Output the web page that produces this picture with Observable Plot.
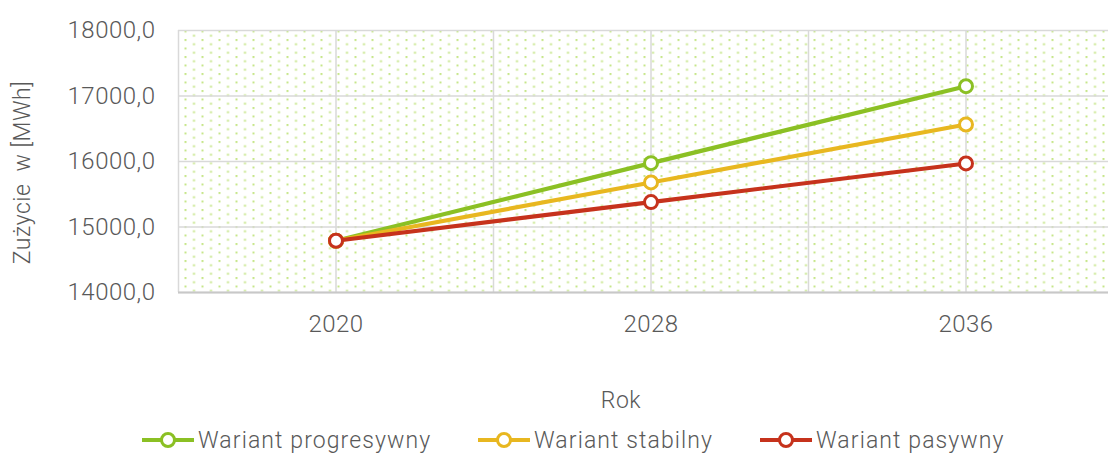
<!DOCTYPE html>
<html>
<head>
<meta charset="utf-8">
<script src="https://cdn.jsdelivr.net/npm/d3@7"></script>
<script src="https://cdn.jsdelivr.net/npm/@observablehq/plot@0.6"></script>
<style>
  html, body { margin: 0; padding: 0; background: #fff; overflow: hidden; }
  #chart svg { display: block; }
  #legend { position: relative; height: 33px; font-family: Roboto, "Noto Sans", sans-serif; font-weight: 300; font-size: 23px; letter-spacing: 1.1px; color: #595959; }
  #legend .item { position: absolute; top: 7px; height: 26px; display: flex; align-items: center; }
  #legend .item span { margin-left: 4px; white-space: nowrap; }
</style>
</head>
<body>
<div id="chart"></div>
<div id="legend"></div>
<script>
// ---- data ----
const years = [2020, 2028, 2036];
const seriesNames = ["Wariant progresywny", "Wariant stabilny", "Wariant pasywny"];
const progresywny = [14790, 15975, 17150];
const stabilny = [14790, 15680, 16565];
const pasywny = [14790, 15380, 15970];
const seriesColors = ["#8bc024", "#e8b720", "#c6321c"];
const yTicks = [14000, 15000, 16000, 17000, 18000];
const xTickLabels = [2020, 2028, 2036];
const xGrid = [2016, 2020, 2024, 2028, 2032, 2036];
const xDomain = [2016, 2040];
const yTitle = "Zużycie\u00a0 w [MWh]";
const xTitle = "Rok";

const seriesValues = [progresywny, stabilny, pasywny];
const rows = seriesNames.flatMap((name, i) =>
  years.map((year, j) => ({ series: name, year, value: seriesValues[i][j] }))
);

const textColor = "#595959";
const fontFamily = "Roboto, 'Noto Sans', sans-serif";

const marks = [
  Plot.frame({ fill: "url(#dots)", stroke: null }),
  Plot.gridY(yTicks, { stroke: "#d9d9d9", strokeOpacity: 1, strokeWidth: 1.5 }),
  Plot.gridX(xGrid, { stroke: "#d9d9d9", strokeOpacity: 1, strokeWidth: 1.5 }),
  Plot.ruleY([yTicks[0]], { stroke: "#c8c8c8", strokeWidth: 2 }),
  Plot.axisY(yTicks, {
    tickSize: 0, tickPadding: 23, fontSize: 24, fill: textColor, fontWeight: 300,
    tickFormat: d => d3.format(".1f")(d).replace(".", ","), label: null
  }),
  Plot.axisX(xTickLabels, {
    tickSize: 0, tickPadding: 22, fontSize: 24, fill: textColor, fontWeight: 300,
    tickFormat: d => String(d), label: null
  }),
  Plot.text([yTitle], {
    frameAnchor: "left", textAnchor: "middle", rotate: -90, dx: -156, dy: 11,
    fontSize: 23, fill: textColor, fontWeight: 300, text: d => d
  }),
  Plot.text([xTitle], {
    frameAnchor: "bottom", dx: -30, dy: 115,
    fontSize: 23, fill: textColor, fontWeight: 300, text: d => d
  })
];

seriesNames.forEach((name, i) => {
  const data = rows.filter(r => r.series === name);
  marks.push(
    Plot.line(data, { x: "year", y: "value", stroke: seriesColors[i], strokeWidth: 4.2 }),
    Plot.dot(data, { x: "year", y: "value", r: 6.5, fill: "white", stroke: seriesColors[i], strokeWidth: 3 })
  );
});

const chart = Plot.plot({
  width: 1108,
  height: 420,
  marginLeft: 178,
  marginRight: -15,
  marginTop: 30,
  marginBottom: 128,
  style: { fontFamily, overflow: "visible" },
  x: { domain: xDomain, axis: null },
  y: { domain: [yTicks[0], yTicks[yTicks.length - 1]], axis: null },
  marks
});

// dotted background pattern
const defs = d3.select(chart).insert("defs", ":first-child");
const pat = defs.append("pattern")
  .attr("id", "dots").attr("patternUnits", "userSpaceOnUse")
  .attr("width", 17).attr("height", 8.5).attr("x", 14).attr("y", 4.5);
pat.append("rect").attr("x", 0).attr("y", 0).attr("width", 2).attr("height", 2).attr("fill", "#c6e68a");
pat.append("rect").attr("x", 8.5).attr("y", 4.25).attr("width", 2).attr("height", 2).attr("fill", "#c6e68a");
d3.select(chart).selectAll("text").style("white-space", "pre").style("letter-spacing", "0.5px");

document.getElementById("chart").appendChild(chart);

// legend
const legendLeft = [142, 478, 760];
const legend = document.getElementById("legend");
seriesNames.forEach((name, i) => {
  const item = document.createElement("div");
  item.className = "item";
  item.style.left = legendLeft[i] + "px";
  item.innerHTML =
    `<svg width="52" height="20"><line x1="0" x2="52" y1="10" y2="10" stroke="${seriesColors[i]}" stroke-width="4"/>` +
    `<circle cx="26" cy="10" r="6.5" fill="white" stroke="${seriesColors[i]}" stroke-width="3"/></svg>` +
    `<span>${name}</span>`;
  legend.appendChild(item);
});
</script>
</body>
</html>
